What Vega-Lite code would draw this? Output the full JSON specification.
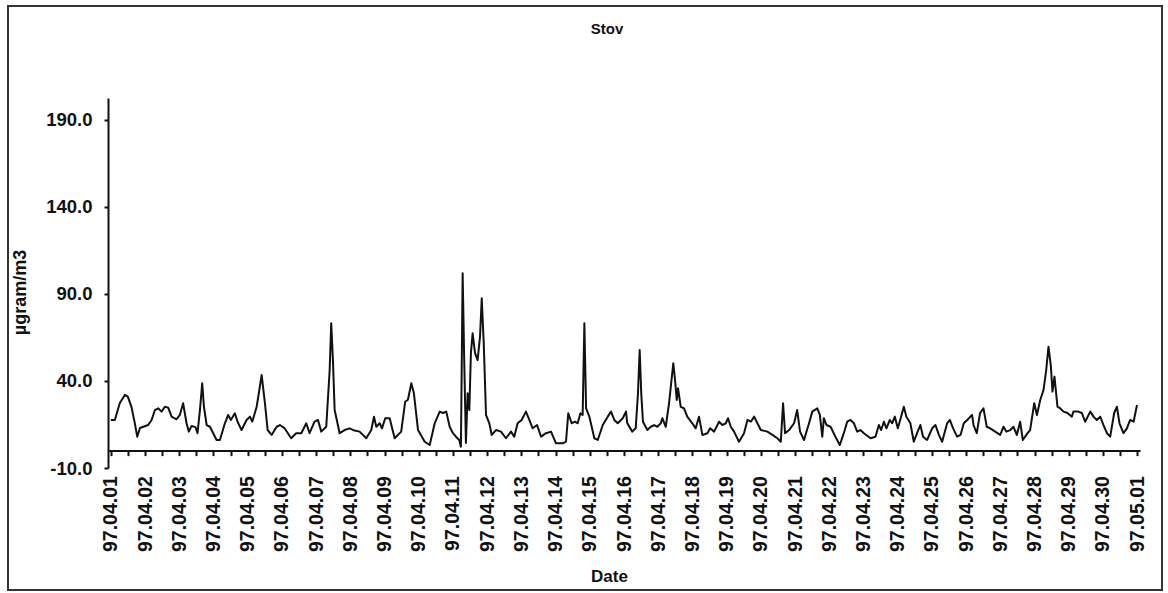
{
  "$schema": "https://vega.github.io/schema/vega-lite/v6.json",
  "width": 1154,
  "height": 584,
  "autosize": {"type": "none"},
  "padding": {"left": 8, "top": 6, "right": 6, "bottom": 3},
  "background": "white",
  "config": {"view": {"stroke": "#333", "strokeWidth": 2}, "font": "Liberation Sans"},
  "title": {"text": "Stov", "anchor": "middle", "frame": "group", "offset": -31, "dx": 22, "fontSize": 15, "fontWeight": "bold", "color": "#111", "font": "Liberation Sans"},
  "data": {"values": [
    {"hour": 0, "value": 17.6}, {"hour": 2.8, "value": 17.6}, {"hour": 6.3, "value": 27.3}, {"hour": 9.8, "value": 32}, {"hour": 11.9, "value": 31}, {"hour": 14.5, "value": 25}, {"hour": 16.8, "value": 15.8}, {"hour": 18.5, "value": 8}, {"hour": 20.4, "value": 13}, {"hour": 26.2, "value": 14.7}, {"hour": 28.6, "value": 17.6}, {"hour": 30.9, "value": 23.3}, {"hour": 33.2, "value": 24.3}, {"hour": 35.6, "value": 22.4}, {"hour": 37.9, "value": 25.2}, {"hour": 40.2, "value": 24.7}, {"hour": 42.6, "value": 19.5}, {"hour": 46.1, "value": 18}, {"hour": 48.4, "value": 20.5}, {"hour": 50.7, "value": 27.2}, {"hour": 53.1, "value": 15.7}, {"hour": 54.7, "value": 10.9}, {"hour": 56.6, "value": 14.1}, {"hour": 59.4, "value": 13.5}, {"hour": 60.8, "value": 10}, {"hour": 62.5, "value": 23.3}, {"hour": 64.1, "value": 38.7}, {"hour": 65.3, "value": 25.2}, {"hour": 67.2, "value": 14.7}, {"hour": 69.5, "value": 13.7}, {"hour": 74.2, "value": 6.1}, {"hour": 76.5, "value": 6.1}, {"hour": 80.0, "value": 15.7}, {"hour": 82.3, "value": 20.5}, {"hour": 84.2, "value": 17.6}, {"hour": 87.0, "value": 21.4}, {"hour": 88.9, "value": 16.6}, {"hour": 91.7, "value": 11.8}, {"hour": 95.2, "value": 17.6}, {"hour": 97.6, "value": 19.5}, {"hour": 99.2, "value": 16.6}, {"hour": 102.3, "value": 25.2}, {"hour": 105.8, "value": 43.4}, {"hour": 108.1, "value": 27.2}, {"hour": 110.0, "value": 11.8}, {"hour": 112.8, "value": 9}, {"hour": 116.3, "value": 13.7}, {"hour": 118.6, "value": 14.7},
    {"hour": 121.9, "value": 12.8}, {"hour": 126.5, "value": 7.1}, {"hour": 130.0, "value": 10}, {"hour": 133.6, "value": 10}, {"hour": 137.1, "value": 15.7}, {"hour": 139.4, "value": 10}, {"hour": 142.9, "value": 16.6}, {"hour": 145.3, "value": 17.6}, {"hour": 147.6, "value": 10.9}, {"hour": 151.1, "value": 13.7}, {"hour": 153.5, "value": 46}, {"hour": 154.6, "value": 73.2}, {"hour": 155.8, "value": 52}, {"hour": 157.0, "value": 23.3}, {"hour": 160.5, "value": 10}, {"hour": 164.0, "value": 11.8}, {"hour": 167.5, "value": 12.8}, {"hour": 171.0, "value": 11.5}, {"hour": 174.5, "value": 10.9}, {"hour": 179.2, "value": 7.1}, {"hour": 182.7, "value": 11.8}, {"hour": 184.6, "value": 19.5}, {"hour": 186.2, "value": 13.7}, {"hour": 188.6, "value": 15.7}, {"hour": 190.2, "value": 12.8}, {"hour": 192.5, "value": 18.6}, {"hour": 195.6, "value": 18.6}, {"hour": 199.1, "value": 7.1}, {"hour": 203.7, "value": 10.9}, {"hour": 206.5, "value": 28.1}, {"hour": 208.4, "value": 29.2}, {"hour": 210.8, "value": 38.7}, {"hour": 212.6, "value": 32.9}, {"hour": 215.5, "value": 11.8}, {"hour": 220.2, "value": 5.1}, {"hour": 223.7, "value": 3.2}, {"hour": 227.2, "value": 15.7}, {"hour": 230.7, "value": 22.4}, {"hour": 233.0, "value": 21.6}, {"hour": 235.3, "value": 22.4}, {"hour": 237.7, "value": 13.7}, {"hour": 240.0, "value": 10},
    {"hour": 242.1, "value": 8}, {"hour": 244.4, "value": 6.1}, {"hour": 245.6, "value": 2.2}, {"hour": 246.8, "value": 101.9}, {"hour": 247.9, "value": 52}, {"hour": 249.1, "value": 4.4}, {"hour": 250.3, "value": 32.9}, {"hour": 251.5, "value": 23.3}, {"hour": 252.6, "value": 56}, {"hour": 253.8, "value": 67.4}, {"hour": 255.5, "value": 56}, {"hour": 257.3, "value": 52}, {"hour": 259.0, "value": 65.5}, {"hour": 260.2, "value": 87.5}, {"hour": 261.6, "value": 61.7}, {"hour": 263.2, "value": 20.5}, {"hour": 265.5, "value": 15.7}, {"hour": 267.2, "value": 9}, {"hour": 270.2, "value": 11.8}, {"hour": 273.7, "value": 10.9}, {"hour": 277.2, "value": 7.1}, {"hour": 280.7, "value": 10.9}, {"hour": 283.0, "value": 8}, {"hour": 285.4, "value": 15.7}, {"hour": 288.2, "value": 17.6}, {"hour": 291.2, "value": 22.4}, {"hour": 293.6, "value": 17.6}, {"hour": 295.9, "value": 12.8}, {"hour": 299.0, "value": 14.7}, {"hour": 301.8, "value": 8}, {"hour": 305.3, "value": 10}, {"hour": 308.8, "value": 10.9}, {"hour": 312.3, "value": 4.2}, {"hour": 317.0, "value": 4.2}, {"hour": 319.3, "value": 5.1}, {"hour": 320.9, "value": 21.4}, {"hour": 323.3, "value": 15.7}, {"hour": 325.6, "value": 16.6}, {"hour": 327.5, "value": 15.7}, {"hour": 329.4, "value": 21.4}, {"hour": 331.0, "value": 20.5}, {"hour": 332.2, "value": 73.2}, {"hour": 333.4, "value": 24.3}, {"hour": 335.7, "value": 19.5}, {"hour": 339.2, "value": 7.1}, {"hour": 341.6, "value": 6.1}, {"hour": 345.1, "value": 14.7}, {"hour": 348.6, "value": 19.5}, {"hour": 350.9, "value": 22.4}, {"hour": 353.2, "value": 17.6}, {"hour": 355.6, "value": 15.7}, {"hour": 359.1, "value": 18.6}, {"hour": 361.4, "value": 22.4},
    {"hour": 362.3, "value": 15.7}, {"hour": 365.8, "value": 10.9}, {"hour": 368.2, "value": 12.8}, {"hour": 369.8, "value": 32.9}, {"hour": 371.0, "value": 57.8}, {"hour": 372.1, "value": 32.9}, {"hour": 373.3, "value": 16.6}, {"hour": 376.4, "value": 11.8}, {"hour": 378.8, "value": 13.7}, {"hour": 381.1, "value": 14.7}, {"hour": 383.4, "value": 13.7}, {"hour": 385.8, "value": 15.7}, {"hour": 386.9, "value": 18.6}, {"hour": 389.3, "value": 13.7}, {"hour": 391.6, "value": 27.2}, {"hour": 394.6, "value": 50.2}, {"hour": 395.8, "value": 40.6}, {"hour": 397.0, "value": 29.1}, {"hour": 397.9, "value": 35.8}, {"hour": 399.8, "value": 25.2}, {"hour": 402.1, "value": 24.3}, {"hour": 404.4, "value": 19.5}, {"hour": 407.9, "value": 15.7}, {"hour": 410.3, "value": 12.8}, {"hour": 412.6, "value": 19.5}, {"hour": 415.0, "value": 9}, {"hour": 418.5, "value": 10}, {"hour": 420.4, "value": 12.8}, {"hour": 423.2, "value": 10.9}, {"hour": 426.7, "value": 16.6}, {"hour": 429.0, "value": 14.7}, {"hour": 431.4, "value": 15.7}, {"hour": 433.0, "value": 18.6}, {"hour": 434.9, "value": 13.7}, {"hour": 437.2, "value": 10.9}, {"hour": 440.7, "value": 5.1}, {"hour": 444.2, "value": 10}, {"hour": 446.6, "value": 17.6}, {"hour": 449.0, "value": 16.6}, {"hour": 451.3, "value": 19.5}, {"hour": 453.6, "value": 15.7}, {"hour": 456.0, "value": 11.8}, {"hour": 460.6, "value": 10.9}, {"hour": 464.1, "value": 9}, {"hour": 467.6, "value": 7.1}, {"hour": 470.0, "value": 5.1}, {"hour": 471.6, "value": 27.2}, {"hour": 473.0, "value": 10}, {"hour": 475.8, "value": 11.8}, {"hour": 479.3, "value": 15.7}, {"hour": 481.5, "value": 23.3},
    {"hour": 483.5, "value": 10.9}, {"hour": 486.3, "value": 6.1}, {"hour": 489.8, "value": 15.7}, {"hour": 492.1, "value": 22.4}, {"hour": 495.6, "value": 24.3}, {"hour": 497.4, "value": 20.5}, {"hour": 499.1, "value": 8}, {"hour": 500.2, "value": 18.6}, {"hour": 502.1, "value": 14.7}, {"hour": 504.9, "value": 13.7}, {"hour": 508.3, "value": 8}, {"hour": 511.4, "value": 3.2}, {"hour": 514.2, "value": 10}, {"hour": 516.6, "value": 16.6}, {"hour": 518.9, "value": 17.6}, {"hour": 521.3, "value": 15.7}, {"hour": 523.6, "value": 10.9}, {"hour": 525.9, "value": 11.8}, {"hour": 528.3, "value": 10}, {"hour": 533.0, "value": 7.1}, {"hour": 536.4, "value": 8}, {"hour": 538.8, "value": 14.7}, {"hour": 540.4, "value": 11.8}, {"hour": 542.3, "value": 16.6}, {"hour": 544.1, "value": 12.8}, {"hour": 546.5, "value": 17.6}, {"hour": 548.1, "value": 15.7}, {"hour": 550.0, "value": 19.5}, {"hour": 552.1, "value": 12.8}, {"hour": 554.4, "value": 19.5}, {"hour": 556.3, "value": 25.2}, {"hour": 558.1, "value": 19.5}, {"hour": 560.9, "value": 15.7}, {"hour": 563.3, "value": 5.1}, {"hour": 565.6, "value": 10}, {"hour": 567.9, "value": 14.7}, {"hour": 569.8, "value": 8}, {"hour": 572.6, "value": 6.1}, {"hour": 576.2, "value": 12.8}, {"hour": 578.5, "value": 14.7}, {"hour": 580.9, "value": 9}, {"hour": 583.2, "value": 5.1}, {"hour": 586.7, "value": 15.7}, {"hour": 588.6, "value": 17.6}, {"hour": 590.9, "value": 12.8}, {"hour": 593.7, "value": 8}, {"hour": 596.1, "value": 9}, {"hour": 598.4, "value": 15.7}, {"hour": 600.8, "value": 17.6}, {"hour": 604.2, "value": 20.5},
    {"hour": 605.2, "value": 14.7}, {"hour": 607.5, "value": 10}, {"hour": 609.8, "value": 21.6}, {"hour": 612.2, "value": 24.3}, {"hour": 614.5, "value": 13.7}, {"hour": 616.9, "value": 12.8}, {"hour": 620.4, "value": 10.9}, {"hour": 623.9, "value": 9}, {"hour": 626.3, "value": 13.7}, {"hour": 628.2, "value": 10.9}, {"hour": 631.0, "value": 11.8}, {"hour": 633.2, "value": 13.7}, {"hour": 635.6, "value": 9}, {"hour": 637.9, "value": 16.6}, {"hour": 639.8, "value": 6.1}, {"hour": 643.1, "value": 10}, {"hour": 644.9, "value": 11.8}, {"hour": 647.8, "value": 27.2}, {"hour": 649.7, "value": 20.5}, {"hour": 652.0, "value": 29.1}, {"hour": 654.3, "value": 34.8}, {"hour": 656.2, "value": 46.3}, {"hour": 657.8, "value": 59.7}, {"hour": 659.5, "value": 48.2}, {"hour": 660.6, "value": 33.9}, {"hour": 662.0, "value": 42.5}, {"hour": 664.1, "value": 25.2}, {"hour": 666.0, "value": 24.3}, {"hour": 668.3, "value": 22.4}, {"hour": 671.1, "value": 21.6}, {"hour": 674.2, "value": 19.5}, {"hour": 675.3, "value": 22.4}, {"hour": 678.8, "value": 22.4}, {"hour": 681.2, "value": 21.6}, {"hour": 683.5, "value": 16.6}, {"hour": 687.1, "value": 22.4}, {"hour": 689.4, "value": 19.5}, {"hour": 691.7, "value": 17.6}, {"hour": 694.1, "value": 19.5}, {"hour": 696.4, "value": 14.7}, {"hour": 698.8, "value": 10}, {"hour": 701.1, "value": 8}, {"hour": 703.9, "value": 21.6}, {"hour": 705.8, "value": 25.2}, {"hour": 707.6, "value": 15.7}, {"hour": 710.4, "value": 10}, {"hour": 712.8, "value": 12.8}, {"hour": 715.1, "value": 17.6}, {"hour": 717.5, "value": 16.6}, {"hour": 719.9, "value": 26.2}
  ]},
  "mark": {"type": "line", "color": "#111", "strokeWidth": 2, "strokeJoin": "round"},
  "encoding": {
    "x": {
      "field": "hour", "type": "quantitative",
      "scale": {"domain": [-2, 722], "range": [100, 1132], "nice": false, "zero": false},
      "axis": {
        "orient": "bottom", "offset": -139.4,
        "values": [0,12,24,36,48,60,72,84,96,108,120,132,144,156,168,180,192,204,216,228,240,252,264,276,288,300,312,324,336,348,360,372,384,396,408,420,432,444,456,468,480,492,504,516,528,540,552,564,576,588,600,612,624,636,648,660,672,684,696,708,720],
        "labelExpr": "datum.value % 24 == 0 ? timeFormat(datetime(1997, 3, 1 + datum.value / 24), '%y.%m.%d') : ''",
        "labelAngle": 270, "labelAlign": "right", "labelBaseline": "middle",
        "labelFontSize": 19.5, "labelFontWeight": "bold", "labelColor": "#111", "labelPadding": 20,
        "labelOverlap": false, "labelBound": false, "labelFlush": false,
        "tickSize": 5, "tickWidth": 2, "tickColor": "#111",
        "domainColor": "#111", "domainWidth": 2, "grid": false,
        "title": "Date", "titleFontSize": 17, "titleFontWeight": "bold", "titleColor": "#111", "titlePadding": 17, "titleX": 601
      }
    },
    "y": {
      "field": "value", "type": "quantitative",
      "scale": {"domain": [-10, 202.6], "range": [462, 92], "nice": false, "zero": false},
      "axis": {
        "orient": "left", "offset": -100,
        "values": [-10, 40, 90, 140, 190], "format": ".1f",
        "labelExpr": "replace(datum.label, '\u2212', '-')",
        "labelFontSize": 18.5, "labelFontWeight": "bold", "labelColor": "#111", "labelPadding": 12,
        "tickSize": 4, "tickWidth": 2, "tickColor": "#111",
        "domainColor": "#111", "domainWidth": 2, "grid": false,
        "title": "µgram/m3", "titleFontSize": 18, "titleFontWeight": "bold", "titleColor": "#111", "titlePadding": 16, "titleY": 286
      }
    }
  }
}
